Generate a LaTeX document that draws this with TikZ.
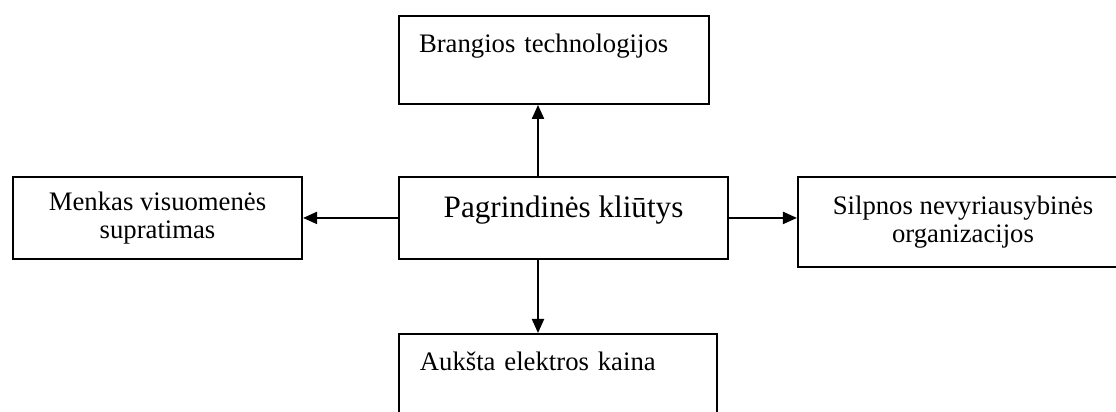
\documentclass[tikz,border=0pt]{standalone}
\usepackage{fontspec}
\setmainfont{Liberation Serif}
\usetikzlibrary{arrows.meta}
\tikzstyle{cbox} = [draw=black, line width=0.9pt, rectangle, inner sep=0pt, font=\fontsize{12}{12.5}\selectfont]
\tikzstyle{cornerbox} = [cbox, anchor=north west, align=left]
\tikzstyle{sidebox} = [cbox, anchor=north west, align=center]
\tikzstyle{hubbox} = [cbox, anchor=north west, font=\fontsize{14}{16}\selectfont, text height=18.4pt, text depth=18.4pt, minimum width=147.9pt]
\tikzstyle{link} = [line width=0.9pt, -{Triangle[length=6.3pt,width=5.4pt]}]

\begin{document}
\begin{tikzpicture}[x=0.4494pt, y=-0.4494pt]
\clip (0,0) rectangle (1116,412);
% centre
\node [hubbox] (hub) at (398,176) {Pagrindinės kliūtys};
% four barriers
\node [cornerbox, inner xsep=9pt, text width=121.3pt, text height=16.6pt, text depth=22.9pt] (tech) at (398,15) {Brangios technologijos};
\node [cornerbox, inner xsep=9.4pt, text width=124pt, text height=16.2pt, text depth=27pt] (price) at (398,333) {Aukšta elektros kaina};
\node [sidebox, minimum width=129.9pt, minimum height=36.9pt] (public) at (12,176) {Menkas visuomenės\\supratimas};
\node [sidebox, minimum width=148.3pt, minimum height=40.4pt] (ngo) at (797,176) {Silpnos nevyriausybinės\\organizacijos};
\coordinate (stem) at (538,0);
\draw [link] (hub.north -| stem) -- (tech.south -| stem);
\draw [link] (hub.south -| stem) -- (price.north -| stem);
\draw [link] (hub.west) -- (public.east |- hub.west);
\draw [link] (hub.east) -- (ngo.west |- hub.east);
\end{tikzpicture}
\end{document}
